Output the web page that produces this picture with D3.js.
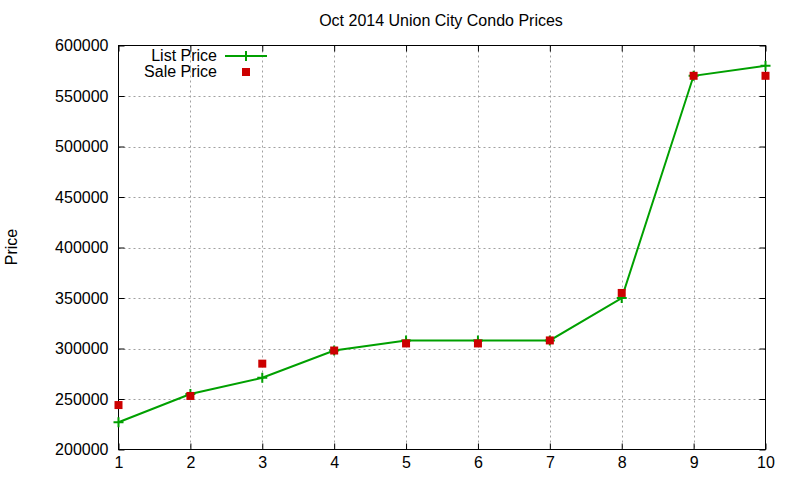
<!DOCTYPE html>
<html>
<head>
<meta charset="utf-8">
<script src="https://cdn.jsdelivr.net/npm/d3@7"></script>
<style>
  body { margin: 0; background: #fff; }
  svg text { font-family: "Liberation Sans", Arial, sans-serif; fill: #000; }
</style>
</head>
<body>
<svg id="chart" width="800" height="480"></svg>
<script>
// data
const units = [1, 2, 3, 4, 5, 6, 7, 8, 9, 10];
const listPrice = [227000, 255000, 271000, 298000, 308000, 308000, 308000, 350000, 570000, 580000];
const salePrice = [244000, 253000, 285000, 298000, 305000, 305000, 308000, 355000, 570000, 570000];
const yTicks = [200000, 250000, 300000, 350000, 400000, 450000, 500000, 550000, 600000];

const svg = d3.select("#chart");
const plotLeft = 118.5, plotRight = 765.5, plotTop = 45.5, plotBottom = 449.5;

let x = d3.scaleLinear().domain([1, 10]).range([plotLeft, plotRight]);
let y = d3.scaleLinear().domain([200000, 600000]).range([plotBottom, plotTop]);

// grid
svg.append("g").selectAll("line").data(units.slice(1, -1)).join("line")
    .attr("x1", d => Math.round(x(d)) + 0.5).attr("x2", d => Math.round(x(d)) + 0.5)
    .attr("y1", plotTop).attr("y2", plotBottom)
    .attr("stroke", "#a0a0a0").attr("stroke-dasharray", "2,3");
svg.append("g").selectAll("line").data(yTicks.slice(1, -1)).join("line")
    .attr("y1", d => Math.round(y(d)) + 0.5).attr("y2", d => Math.round(y(d)) + 0.5)
    .attr("x1", plotLeft).attr("x2", plotRight)
    .attr("stroke", "#a0a0a0").attr("stroke-dasharray", "2,3");

// axes, gnuplot style: inward ticks mirrored on both sides
let fontSize = "16px";
let gx = svg.append("g").attr("transform", "translate(0," + plotBottom + ")")
    .call(d3.axisBottom(x).tickValues(units).tickSizeInner(-6).tickSizeOuter(0).tickPadding(7));
let gy = svg.append("g").attr("transform", "translate(" + plotLeft + ",0)")
    .call(d3.axisLeft(y).tickValues(yTicks).tickSizeInner(-6).tickSizeOuter(0).tickPadding(10).tickFormat(d3.format("d")));
svg.append("g").attr("transform", "translate(0," + plotTop + ")")
    .call(d3.axisTop(x).tickValues(units).tickSizeInner(-6).tickSizeOuter(0).tickFormat(""));
svg.append("g").attr("transform", "translate(" + plotRight + ",0)")
    .call(d3.axisRight(y).tickValues(yTicks).tickSizeInner(-6).tickSizeOuter(0).tickFormat(""));
svg.selectAll(".domain").remove();
svg.selectAll(".tick line").attr("stroke", "#000");
svg.selectAll(".tick text").style("font-size", fontSize).style("font-family", "'Liberation Sans', Arial, sans-serif");

// frame
svg.append("rect").attr("x", plotLeft).attr("y", plotTop)
    .attr("width", plotRight - plotLeft).attr("height", plotBottom - plotTop)
    .attr("fill", "none").attr("stroke", "#000");

// list price line
const green = "#00a000", red = "#cc0000";
let line = d3.line().x((d, i) => x(units[i])).y(d => y(d));
svg.append("path").datum(listPrice).attr("d", line)
    .attr("fill", "none").attr("stroke", green).attr("stroke-width", 2);

function plus(g, cx, cy) {
    g.append("path")
        .attr("d", "M" + (cx - 5) + "," + cy + "H" + (cx + 5) + "M" + cx + "," + (cy - 5) + "V" + (cy + 5))
        .attr("stroke", green).attr("stroke-width", 2);
}
let marks = svg.append("g");
listPrice.forEach((d, i) => plus(marks, x(units[i]), y(d)));

// sale price squares
svg.append("g").selectAll("rect").data(salePrice).join("rect")
    .attr("x", (d, i) => x(units[i]) - 4).attr("y", d => y(d) - 4)
    .attr("width", 8).attr("height", 8).attr("fill", red);

// title and axis label
svg.append("text").attr("x", 441).attr("y", 26).attr("text-anchor", "middle")
    .style("font-size", fontSize).text("Oct 2014 Union City Condo Prices");
svg.append("text").attr("transform", "translate(17,247) rotate(-90)")
    .attr("text-anchor", "middle").style("font-size", fontSize).text("Price");

// legend
let legend = svg.append("g");
legend.append("text").attr("x", 217).attr("y", 61).attr("text-anchor", "end")
    .style("font-size", fontSize).text("List Price");
legend.append("line").attr("x1", 225).attr("x2", 267).attr("y1", 56).attr("y2", 56)
    .attr("stroke", green).attr("stroke-width", 2);
plus(legend, 246, 56);
legend.append("text").attr("x", 217).attr("y", 77).attr("text-anchor", "end")
    .style("font-size", fontSize).text("Sale Price");
legend.append("rect").attr("x", 242).attr("y", 68).attr("width", 8).attr("height", 8).attr("fill", red);
</script>
</body>
</html>
